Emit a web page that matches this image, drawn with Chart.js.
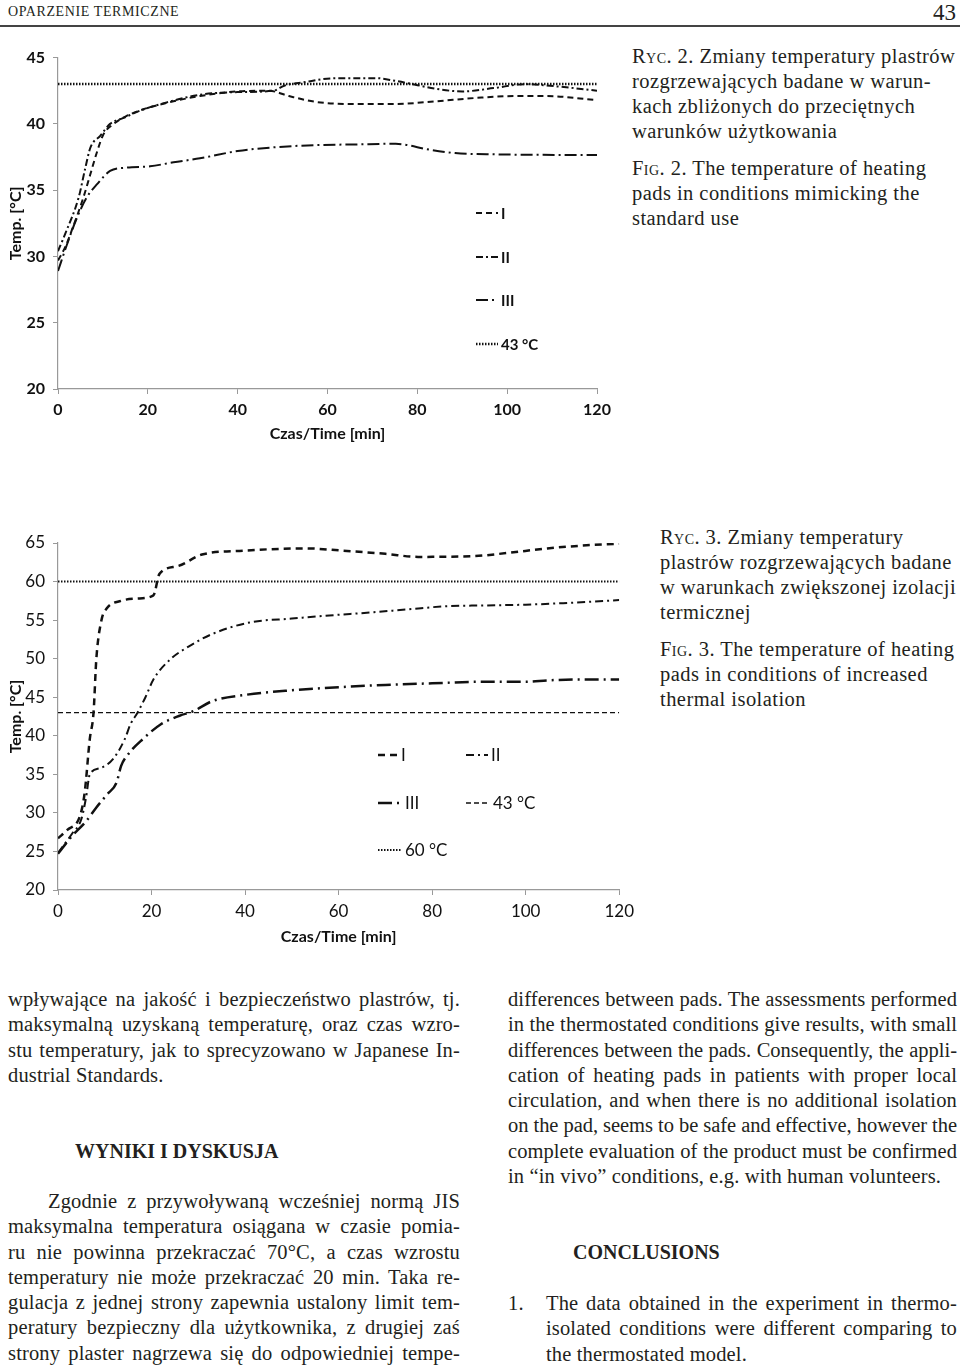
<!DOCTYPE html>
<html>
<head>
<meta charset="utf-8">
<script src="https://cdn.jsdelivr.net/npm/chart.js"></script>
<style>
  body { margin: 0; background: #fff; width: 960px; height: 1369px; position: relative; overflow: hidden;
         font-family: "Liberation Serif", serif; color: #231f20; }
  .abs { position: absolute; }
  .hdr { left: 8px; top: 4px; font-size: 14px; letter-spacing: 0.6px; }
  .pg { right: 4px; top: 0px; font-size: 23px; }
  .rule { left: 0; top: 25px; width: 960px; height: 2px; background: #444; }
  .cap { font-size: 20.5px; line-height: 25px; letter-spacing: 0.45px; white-space: nowrap; }
  .sc { font-variant: small-caps; }
  .col { font-size: 20.5px; line-height: 25.3px; letter-spacing: 0.15px; }
  .col div { text-align: justify; text-align-last: justify; white-space: nowrap; }
  .col div.last { text-align-last: left; }
  .head { font-weight: bold; font-size: 20px; }
  canvas { position: absolute; left: 0; }
</style>
</head>
<body>
<div class="abs hdr">OPARZENIE TERMICZNE</div>
<div class="abs pg">43</div>
<div class="abs rule"></div>

<canvas id="fig2" width="620" height="420" style="top:40px"></canvas>
<canvas id="fig3" width="640" height="440" style="top:520px"></canvas>

<div class="abs cap" style="left:632px; top:44px">
  <span class="sc">Ryc.</span> 2. Zmiany temperatury plastrów<br>
  rozgrzewających badane w warun-<br>
  kach zbliżonych do przeciętnych<br>
  warunków użytkowania
</div>
<div class="abs cap" style="left:632px; top:156px">
  <span class="sc">Fig.</span> 2. The temperature of heating<br>
  pads in conditions mimicking the<br>
  standard use
</div>

<div class="abs cap" style="left:660px; top:525px">
  <span class="sc">Ryc.</span> 3. Zmiany temperatury<br>
  plastrów rozgrzewających badane<br>
  w warunkach zwiększonej izolacji<br>
  termicznej
</div>
<div class="abs cap" style="left:660px; top:637px">
  <span class="sc">Fig.</span> 3. The temperature of heating<br>
  pads in conditions of increased<br>
  thermal isolation
</div>

<div class="abs col" style="left:8px; top:987px; width:452px">
  <div>wpływające na jakość i bezpieczeństwo plastrów, tj.</div>
  <div>maksymalną uzyskaną temperaturę, oraz czas wzro-</div>
  <div>stu temperatury, jak to sprecyzowano w Japanese In-</div>
  <div class="last">dustrial Standards.</div>
</div>
<div class="abs head" style="left:75px; top:1140px">WYNIKI I DYSKUSJA</div>
<div class="abs col" style="left:8px; top:1189px; width:452px">
  <div style="padding-left:40px">Zgodnie z przywoływaną wcześniej normą JIS</div>
  <div>maksymalna temperatura osiągana w czasie pomia-</div>
  <div>ru nie powinna przekraczać 70°C, a czas wzrostu</div>
  <div>temperatury nie może przekraczać 20 min. Taka re-</div>
  <div>gulacja z jednej strony zapewnia ustalony limit tem-</div>
  <div>peratury bezpieczny dla użytkownika, z drugiej zaś</div>
  <div>strony plaster nagrzewa się do odpowiedniej tempe-</div>
</div>

<div class="abs col" style="left:508px; top:987px; width:449px">
  <div>differences between pads. The assessments performed</div>
  <div>in the thermostated conditions give results, with small</div>
  <div>differences between the pads. Consequently, the appli-</div>
  <div>cation of heating pads in patients with proper local</div>
  <div>circulation, and when there is no additional isolation</div>
  <div>on the pad, seems to be safe and effective, however the</div>
  <div>complete evaluation of the product must be confirmed</div>
  <div class="last">in “in vivo” conditions, e.g. with human volunteers.</div>
</div>
<div class="abs head" style="left:573px; top:1241px">CONCLUSIONS</div>
<div class="abs col" style="left:508px; top:1291px">1.</div>
<div class="abs col" style="left:546px; top:1291px; width:411px">
  <div>The data obtained in the experiment in thermo-</div>
  <div>isolated conditions were different comparing to</div>
  <div class="last">the thermostated model.</div>
</div>

<script>
// Ryc. 2 - warunki zblizone do uzytkowania
const fig2TimeI = [0, 1.6, 3.1, 5.7, 7.2, 8.7, 10.1, 12.4, 15.3, 19, 25.7, 31.6, 40, 47, 51.4, 57.6, 66.4, 75, 84, 92.8, 101.6, 108.6, 120];
const fig2TempI = [29.7, 30.7, 32.0, 34.5, 36.2, 37.9, 39.2, 40.0, 40.6, 41.1, 41.7, 42.1, 42.45, 42.5, 42.1, 41.65, 41.5, 41.5, 41.7, 41.95, 42.1, 42.1, 41.8];
const fig2TimeII = [0, 1.6, 4.6, 6.1, 7.2, 9.4, 11.6, 14.6, 18.3, 24, 31.6, 40, 47.9, 50.5, 54, 62, 70.8, 75, 79.6, 84, 90, 97, 104, 108.6, 114.8, 120];
const fig2TempII = [30.4, 31.7, 34.45, 36.7, 38.2, 39.1, 40.0, 40.45, 41.0, 41.6, 42.2, 42.4, 42.5, 42.9, 43.1, 43.45, 43.45, 43.25, 42.95, 42.65, 42.45, 42.7, 43.0, 42.9, 42.7, 42.5];
const fig2TimeIII = [0, 2, 4.2, 6.4, 8.7, 11.6, 15.3, 20.5, 25.7, 31.6, 40, 48.8, 57.6, 66.4, 75.2, 77.8, 82, 88.4, 97.2, 120];
const fig2TempIII = [28.9, 30.9, 32.9, 34.45, 35.45, 36.45, 36.7, 36.8, 37.1, 37.4, 37.95, 38.25, 38.4, 38.45, 38.5, 38.4, 38.1, 37.8, 37.7, 37.65];

// Ryc. 3 - zwiekszona izolacja termiczna
const fig3TimeI = [0, 2, 4.7, 5.7, 6.8, 7.6, 8.2, 9.3, 10.4, 13.5, 17, 20.4, 21.7, 25.6, 30.8, 39.5, 53, 61, 70, 77, 89, 96, 104.6, 113, 120];
const fig3TempI = [26.7, 27.8, 29.6, 32.6, 39.6, 43, 50, 55, 56.5, 57.5, 57.8, 58.2, 61, 62, 63.5, 64, 64.3, 64, 63.6, 63.2, 63.3, 63.7, 64.3, 64.7, 64.9];
const fig3TimeII = [0, 3, 5, 6, 6.8, 9, 11.8, 14.3, 15.5, 17, 18.7, 20.4, 24, 28, 33, 41, 50, 58, 67, 75, 83, 91, 100, 108, 120];
const fig3TempII = [24.8, 27.3, 29.2, 32, 35.0, 35.8, 37.0, 39.6, 41.5, 43, 45, 47.3, 49.9, 51.6, 53.2, 54.7, 55.2, 55.6, 56.0, 56.4, 56.8, 56.9, 57.0, 57.2, 57.6];
const fig3TimeIII = [0, 3, 6, 8.2, 10.5, 12.5, 13.5, 15, 18.2, 22, 26, 29, 33, 40, 50, 60, 70, 80, 90, 100, 105, 112, 120];
const fig3TempIII = [24.7, 27, 28.9, 30.7, 32.4, 33.9, 36.1, 37.6, 39.6, 41.5, 42.6, 43.2, 44.5, 45.3, 45.9, 46.3, 46.6, 46.8, 47.0, 47.0, 47.2, 47.3, 47.3];

const limitTime = [0, 120];
const limit43 = [43, 43];
const limit60 = [60, 60];

const xTicks = [0, 20, 40, 60, 80, 100, 120];

// wiersze, ktore sie nie mieszcza - zmniejsz odstep liter
document.querySelectorAll('.col div').forEach(line => {
  let ls = 0.15;
  while (line.scrollWidth > line.clientWidth + 0.5 && ls > -1) {
    ls -= 0.05;
    line.style.letterSpacing = ls + 'px';
  }
});

function pts(xs, ys) {
  return xs.map((x, i) => ({ x: x, y: ys[i] }));
}

function series(label, xs, ys, dash, width) {
  return {
    label: label,
    data: pts(xs, ys),
    borderColor: '#111',
    borderWidth: width,
    borderDash: dash,
    pointRadius: 0,
    showLine: true,
    fill: false,
    cubicInterpolationMode: 'monotone'
  };
}

// legenda rysowana w miejscu jak w oryginale
const freeLegend = {
  id: 'freeLegend',
  afterDraw(chart, args, opts) {
    const ctx = chart.ctx;
    ctx.save();
    ctx.font = opts.font;
    ctx.fillStyle = '#111';
    ctx.textBaseline = 'middle';
    opts.items.forEach(it => {
      const ds = chart.data.datasets[it.ds];
      ctx.beginPath();
      ctx.setLineDash(ds.borderDash || []);
      ctx.lineWidth = ds.borderWidth;
      ctx.strokeStyle = ds.borderColor;
      ctx.moveTo(it.x, it.y);
      ctx.lineTo(it.x + it.len, it.y);
      ctx.stroke();
      ctx.setLineDash([]);
      ctx.fillText(ds.label, it.x + it.len + 3, it.y + 1);
    });
    ctx.restore();
  }
};

function makeOptions(cfg) {
  return {
    responsive: false,
    animation: false,
    layout: { padding: { top: cfg.top, right: cfg.right, left: 0, bottom: 0 } },
    plugins: {
      legend: { display: false },
      tooltip: { enabled: false },
      freeLegend: { font: cfg.legendFont, items: cfg.legendItems }
    },
    scales: {
      x: {
        type: 'linear', min: 0, max: 120,
        afterBuildTicks: s => { s.ticks = xTicks.map(v => ({ value: v })); },
        afterFit: s => { s.height = cfg.xh; },
        grid: { drawOnChartArea: false, tickLength: 5, color: '#999' },
        border: { color: '#999', width: 1.2 },
        ticks: { color: '#111', padding: 6, maxRotation: 0, font: { family: 'Lato', size: cfg.tickSize, weight: cfg.tickWeight } },
        title: { display: true, text: 'Czas/Time [min]', color: '#111',
                 font: { family: 'Lato', size: 16, weight: 'bold' }, padding: { bottom: cfg.xtPad } }
      },
      y: {
        min: 20, max: cfg.ymax,
        afterFit: s => { s.width = 58; },
        grid: { drawOnChartArea: false, tickLength: 5, color: '#999' },
        border: { color: '#999', width: 1.2 },
        ticks: { stepSize: 5, color: '#111', padding: 8, font: { family: 'Lato', size: cfg.tickSize, weight: cfg.tickWeight } },
        title: { display: true, text: 'Temp. [°C]', color: '#111',
                 font: { family: 'Lato', size: 16, weight: 'bold' }, padding: { top: 6 } }
      }
    }
  };
}

new Chart(document.getElementById('fig2'), {
  type: 'scatter',
  data: {
    datasets: [
      series('I', fig2TimeI, fig2TempI, [6, 4], 2),
      series('II', fig2TimeII, fig2TempII, [7, 3, 2, 3], 2),
      series('III', fig2TimeIII, fig2TempIII, [12, 4, 2, 4], 2),
      series('43 °C', limitTime, limit43, [1.5, 1.5], 2.5)
    ]
  },
  options: makeOptions({
    top: 16, right: 23, xh: 71, xtPad: 17, ymax: 45, tickSize: 16, tickWeight: 'bold',
    legendFont: 'bold 15px Lato',
    legendItems: [
      { ds: 0, x: 476, y: 173, len: 22 },
      { ds: 1, x: 476, y: 217, len: 22 },
      { ds: 2, x: 476, y: 260, len: 22 },
      { ds: 3, x: 476, y: 304, len: 22 }
    ]
  }),
  plugins: [freeLegend]
});

new Chart(document.getElementById('fig3'), {
  type: 'scatter',
  data: {
    datasets: [
      series('I', fig3TimeI, fig3TempI, [7, 5], 2.5),
      series('II', fig3TimeII, fig3TempII, [8, 4, 2, 4], 2),
      series('III', fig3TimeIII, fig3TempIII, [14, 5, 2, 5], 2.5),
      series('43 °C', limitTime, limit43, [5, 3], 1.3),
      series('60 °C', limitTime, limit60, [1.5, 1.5], 2)
    ]
  },
  options: makeOptions({
    top: 23, right: 14, xh: 70, xtPad: 14, ymax: 65, tickSize: 17, tickWeight: 'normal',
    legendFont: '17px Lato',
    legendItems: [
      { ds: 0, x: 378, y: 235, len: 20 },
      { ds: 1, x: 466, y: 235, len: 22 },
      { ds: 2, x: 378, y: 283, len: 24 },
      { ds: 3, x: 466, y: 283, len: 24 },
      { ds: 4, x: 378, y: 330, len: 24 }
    ]
  }),
  plugins: [freeLegend]
});
</script>
</body>
</html>
